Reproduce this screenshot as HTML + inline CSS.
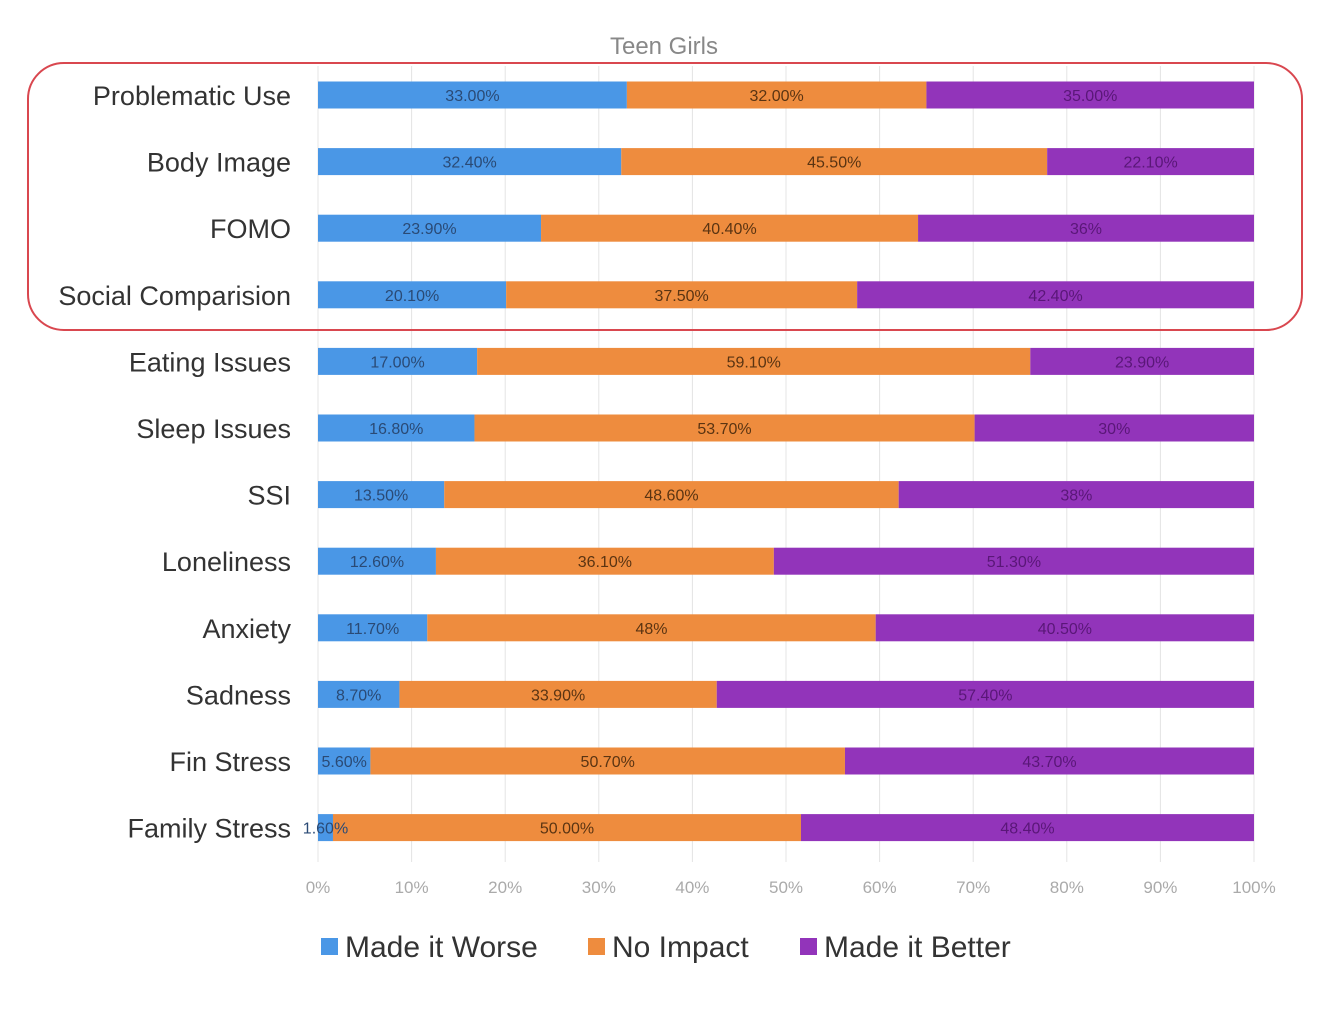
<!DOCTYPE html>
<html><head><meta charset="utf-8"><style>
body{margin:0;background:#fff;font-family:"Liberation Sans",sans-serif}
svg{display:block}
</style></head><body>
<svg id="chart" width="1344" height="1018" xmlns="http://www.w3.org/2000/svg">
<text x="664" y="54" text-anchor="middle" font-size="24" fill="#888">Teen Girls</text>
<g id="grid"></g><g id="bars"></g><g id="vals"></g><g id="labels"></g><g id="ticks"></g>
<rect x="28" y="63" width="1274" height="267" rx="36" fill="none" stroke="#d9474f" stroke-width="2"/>
<g>
<rect x="321" y="938" width="17" height="17" fill="#4a97e6"/>
<text x="345" y="957" font-size="30" fill="#333">Made it Worse</text>
<rect x="588" y="938" width="17" height="17" fill="#ee8c3e"/>
<text x="612" y="957" font-size="30" fill="#333">No Impact</text>
<rect x="800" y="938" width="17" height="17" fill="#9234ba"/>
<text x="824" y="957" font-size="30" fill="#333">Made it Better</text>
</g>
</svg>
<script>
const categories=["Problematic Use","Body Image","FOMO","Social Comparision","Eating Issues","Sleep Issues","SSI","Loneliness","Anxiety","Sadness","Fin Stress","Family Stress"];
const worse=[33.0,32.4,23.9,20.1,17.0,16.8,13.5,12.6,11.7,8.7,5.6,1.6];
const noImpact=[32.0,45.5,40.4,37.5,59.1,53.7,48.6,36.1,48,33.9,50.7,50.0];
const better=[35.0,22.1,36,42.4,23.9,30,38,51.3,40.5,57.4,43.7,48.4];
const worseLabels=["33.00%","32.40%","23.90%","20.10%","17.00%","16.80%","13.50%","12.60%","11.70%","8.70%","5.60%","1.60%"];
const noImpactLabels=["32.00%","45.50%","40.40%","37.50%","59.10%","53.70%","48.60%","36.10%","48%","33.90%","50.70%","50.00%"];
const betterLabels=["35.00%","22.10%","36%","42.40%","23.90%","30%","38%","51.30%","40.50%","57.40%","43.70%","48.40%"];
const ticks=[0,10,20,30,40,50,60,70,80,90,100];
const NS="http://www.w3.org/2000/svg";
const X0=318,X1=1254,Y0=95,STEP=66.6,BH=27;
const xs=p=>X0+(X1-X0)*p/100;
const ys=i=>Y0+STEP*i;
function mk(t,a,parent){const e=document.createElementNS(NS,t);for(const k in a)e.setAttribute(k,a[k]);document.getElementById(parent).appendChild(e);return e;}
ticks.forEach(t=>{
 const l=mk('line',{x1:xs(t),x2:xs(t),y1:66,y2:862,stroke:'#e4e4e4','stroke-width':1},'grid');
 
 
 const tx=mk('text',{x:xs(t),y:893,'text-anchor':'middle','font-size':17,fill:'#aaa'},'ticks');
 tx.textContent=t+'%';
 
 
});
const series=[[worse,worseLabels,'#4a97e6','#2a4a75','worse'],[noImpact,noImpactLabels,'#ee8c3e','#5a3412','no-impact'],[better,betterLabels,'#9234ba','#5a1778','better']];
categories.forEach((c,i)=>{
 const y=ys(i);
 const lab=mk('text',{x:291,y:y+10,'text-anchor':'end','font-size':27,fill:'#333'},'labels');
 lab.textContent=c;
 
 
 const total=worse[i]+noImpact[i]+better[i];
 let acc=0;
 series.forEach(([vals,labs,col,tc,nm])=>{
  const a=acc/total*100,b=(acc+vals[i])/total*100;acc+=vals[i];
  const r=mk('rect',{x:xs(a),y:y-BH/2,width:xs(b)-xs(a),height:BH,fill:col},'bars');
  
  
  const t=mk('text',{x:(xs(a)+xs(b))/2,y:y+6,'text-anchor':'middle','font-size':16,fill:tc},'vals');
  t.textContent=labs[i];
  
  
 });
});
</script>
</body></html>
